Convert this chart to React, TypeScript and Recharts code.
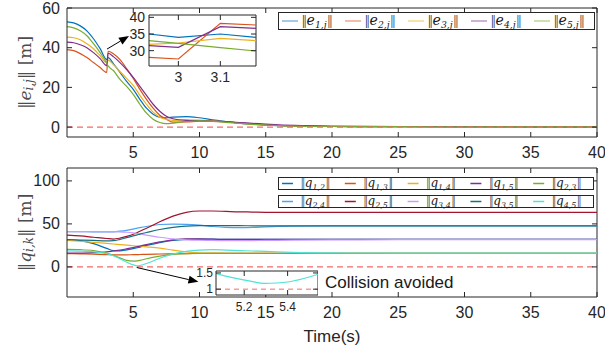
import React from "react";
import { LineChart, Line, XAxis, YAxis, ReferenceLine, CartesianGrid } from "recharts";

// ---- top panel: formation errors ----
const topTime = [0, 0.5, 1, 1.5, 2, 2.5, 3, 3.1, 3.5, 4, 4.5, 5, 5.5, 6, 6.5, 7, 7.5, 8, 9, 10, 11, 12, 13, 14, 15, 16, 18, 20, 25, 30, 35, 40];
const e1 = [53, 52.5, 51, 48.5, 44.5, 39.5, 34, 35, 32, 27.5, 23, 19, 14, 9.5, 6.5, 5, 4.7, 5, 5.3, 4.7, 3.7, 2.7, 2, 1.4, 1, 0.7, 0.4, 0.3, 0.2, 0.15, 0.1, 0.1];
const e2 = [39, 38.5, 37, 35, 32.5, 30, 27.5, 38.2, 37, 34, 29.5, 24.5, 19, 14, 9.5, 6, 4, 2.5, 2.6, 3, 3, 2.6, 2.1, 1.6, 1.1, 0.8, 0.4, 0.3, 0.2, 0.15, 0.1, 0.1];
const e3 = [45.3, 45, 44, 42, 39.5, 36, 32.3, 33.7, 31.5, 28, 24.5, 21, 16, 11.5, 7.5, 5, 3.8, 3.4, 3.6, 3.5, 3.1, 2.6, 2, 1.5, 1.1, 0.8, 0.4, 0.3, 0.2, 0.15, 0.1, 0.1];
const e4 = [42.8, 42.5, 41.5, 40, 37.5, 34.5, 31, 37.2, 35.5, 32.5, 29, 25, 20.5, 16, 11.5, 8, 5.5, 4.2, 3.4, 3.2, 3, 2.7, 2.3, 1.9, 1.5, 1.1, 0.7, 0.5, 0.3, 0.2, 0.15, 0.1];
const e5 = [50.6, 50, 48.5, 46, 42, 37.5, 32.2, 30.9, 28.5, 24, 20.5, 16.5, 11.5, 7, 4, 2.3, 1.7, 2, 2.8, 3.1, 2.9, 2.4, 1.9, 1.4, 1, 0.7, 0.4, 0.3, 0.2, 0.15, 0.1, 0.1];

// zoomed view around the switching instant
const zoomTime = [2.93, 3.0, 3.1, 3.185];
const ze1 = [35, 34, 35, 34];
const ze2 = [28, 27.5, 38.2, 37.7];
const ze3 = [31.9, 32.3, 33.7, 33];
const ze4 = [31.5, 31, 37.2, 36.7];
const ze5 = [33, 32.2, 30.9, 29.9];

// ---- bottom panel: inter-agent distances ----
const botTime = [0, 1, 2, 3, 3.5, 4, 4.5, 5, 5.3, 5.5, 6, 7, 8, 9, 10, 11, 12, 13, 14, 15, 17, 20, 25, 30, 35, 40];
const q12 = [31.7, 30.5, 27, 21.5, 19, 18.7, 19.8, 21.3, 22.3, 23, 25, 28.3, 30.8, 32, 32.3, 32.2, 32, 31.9, 31.9, 31.9, 31.9, 31.9, 31.9, 31.9, 31.9, 31.9];
const q13 = [15.5, 15.2, 14.8, 14.3, 14, 13.9, 14, 14.2, 14.3, 14.4, 14.6, 15, 15.3, 15.5, 15.6, 15.7, 15.7, 15.7, 15.7, 15.7, 15.7, 15.7, 15.7, 15.7, 15.7, 15.7];
const q14 = [30.9, 29.8, 28.6, 27.3, 26.6, 26, 25.3, 24.6, 24.2, 24, 23.3, 21.8, 19.5, 17.5, 16.3, 16, 15.9, 15.9, 15.9, 15.9, 15.9, 15.9, 15.9, 15.9, 15.9, 15.9];
const q15 = [16, 16, 16.5, 17.5, 18.5, 19.5, 21, 22.5, 23.5, 24.2, 26, 29, 31.5, 32.5, 32.5, 32.3, 32, 32, 32, 32, 32, 32, 32, 32, 32, 32];
const q23 = [20.3, 20, 19, 16, 13.5, 10.5, 7.5, 6.7, 7, 7.5, 9.5, 12.5, 14.5, 15.5, 15.8, 15.8, 15.8, 15.8, 15.8, 15.8, 15.8, 15.8, 15.8, 15.8, 15.8, 15.8];
const q24 = [41.1, 41, 40.8, 40.6, 40.8, 41.5, 42.5, 44, 45, 45.6, 47, 49.3, 49.8, 49.5, 48.5, 47, 46, 45.6, 45.8, 46.5, 47.3, 47.6, 47.6, 47.6, 47.6, 47.6];
const q25 = [36.9, 36, 34.5, 33, 32.4, 33.5, 35.5, 38, 40, 41.5, 45, 52.5, 59, 63.5, 65, 65, 64.5, 64, 63.8, 63.5, 63.3, 63.3, 63.4, 63.5, 63.5, 63.5];
const q34 = [41, 41, 41, 41, 41, 40.8, 40.3, 39.5, 38.8, 38.3, 37, 34.5, 32.5, 31.5, 31, 30.8, 30.5, 30.5, 30.6, 30.8, 31.1, 31.4, 31.6, 31.7, 31.7, 31.7];
const q35 = [31.7, 31.3, 30.8, 30.3, 30.5, 32, 34, 36, 37.3, 38.2, 40, 43.5, 46, 47.5, 48, 48.1, 48, 47.9, 47.8, 47.8, 47.8, 47.8, 47.8, 47.8, 47.8, 47.8];
const q45 = [18.6, 18.3, 17.5, 15.5, 13, 9.5, 5.5, 2.3, 1.2, 1.6, 4, 10, 15, 18, 19.5, 20, 19.5, 19, 18.5, 18, 17, 16.3, 16, 16, 16, 16];

// zoomed view of the closest approach
const closeTime = [5.07, 5.13, 5.185, 5.24, 5.29, 5.35, 5.4, 5.47, 5.54];
const closeQ45 = [1.48, 1.38, 1.3, 1.23, 1.18, 1.19, 1.22, 1.32, 1.46];

const xTicks = [5, 10, 15, 20, 25, 30, 35, 40];

const topSeries = [
  { key: "e1", vals: e1, zoom: ze1, color: "#0072BD", legend: "#86b9de", sub: "1,j" },
  { key: "e2", vals: e2, zoom: ze2, color: "#D95319", legend: "#eca98c", sub: "2,j" },
  { key: "e3", vals: e3, zoom: ze3, color: "#EDB120", legend: "#f6d890", sub: "3,j" },
  { key: "e4", vals: e4, zoom: ze4, color: "#7E2F8E", legend: "#bf97c7", sub: "4,j" },
  { key: "e5", vals: e5, zoom: ze5, color: "#77AC30", legend: "#bbd698", sub: "5,j" },
];

const botSeries = [
  { key: "q12", vals: q12, color: "#0072BD", sub: "1,2" },
  { key: "q13", vals: q13, color: "#D95319", sub: "1,3" },
  { key: "q14", vals: q14, color: "#EDB120", sub: "1,4" },
  { key: "q15", vals: q15, color: "#7E2F8E", sub: "1,5" },
  { key: "q23", vals: q23, color: "#77AC30", sub: "2,3" },
  { key: "q24", vals: q24, color: "#4DA3F0", sub: "2,4" },
  { key: "q25", vals: q25, color: "#A2142F", sub: "2,5" },
  { key: "q34", vals: q34, color: "#CC99FF", sub: "3,4" },
  { key: "q35", vals: q35, color: "#16707F", sub: "3,5" },
  { key: "q45", vals: q45, color: "#4DE3D6", sub: "4,5" },
];

const topRows = topTime.map((t, i) => {
  const r: any = { t };
  topSeries.forEach((s) => (r[s.key] = s.vals[i]));
  return r;
});
const zoomRows = zoomTime.map((t, i) => {
  const r: any = { t };
  topSeries.forEach((s) => (r[s.key] = s.zoom[i]));
  return r;
});
const botRows = botTime.map((t, i) => {
  const r: any = { t };
  botSeries.forEach((s) => (r[s.key] = s.vals[i]));
  return r;
});
const closeRows = closeTime.map((t, i) => ({ t, q45: closeQ45[i] }));

const INK = "#262626";
const SERIF = "'DejaVu Serif', serif";
const BARS = "'Liberation Serif', serif";

// matlab-style ticks: pointing inward, mirrored on the opposite side
const yTick = (span: number, fs: number, gap: number) => (p: any) => (
  <g>
    <line x1={p.x} x2={p.x + 5} y1={p.y} y2={p.y} stroke={INK} />
    <line x1={p.x + span - 5} x2={p.x + span} y1={p.y} y2={p.y} stroke={INK} />
    <text x={p.x - gap} y={p.y} textAnchor="end" dominantBaseline="central" fontSize={fs} fill={INK}>
      {p.payload.value}
    </text>
  </g>
);
const xTick = (span: number, fs: number, gap: number) => (p: any) => (
  <g>
    <line x1={p.x} x2={p.x} y1={p.y} y2={p.y - 5} stroke={INK} />
    <line x1={p.x} x2={p.x} y1={p.y - span} y2={p.y - span + 5} stroke={INK} />
    <text x={p.x} y={p.y + gap} textAnchor="middle" dominantBaseline="central" fontSize={fs} fill={INK}>
      {p.payload.value}
    </text>
  </g>
);

const yLabel = (sym: string, sub: string) => (p: any) => {
  const vb = p.viewBox;
  const cx = vb.x + 25;
  const cy = vb.y + vb.height / 2;
  return (
    <text transform={`translate(${cx},${cy}) rotate(-90)`} textAnchor="middle" dominantBaseline="central" fontFamily={SERIF} fontSize={17} fill="#4d4d4d">
      <tspan>‖</tspan>
      <tspan fontStyle="italic">{sym}</tspan>
      <tspan fontStyle="italic" fontSize={12} dy={4}>{sub}</tspan>
      <tspan dy={-4}>‖ [m]</tspan>
    </text>
  );
};

const Arrow = (p: any) => {
  const { x1, y1, x2, y2 } = p;
  const a = Math.atan2(y2 - y1, x2 - x1);
  const L = 10;
  const w = 4;
  const bx = x2 - L * Math.cos(a);
  const by = y2 - L * Math.sin(a);
  const pts = `${x2},${y2} ${bx + w * Math.sin(a)},${by - w * Math.cos(a)} ${bx - w * Math.sin(a)},${by + w * Math.cos(a)}`;
  return (
    <g>
      <line x1={x1} y1={y1} x2={bx} y2={by} stroke="#000" strokeWidth={1} />
      <polygon points={pts} fill="#000" />
    </g>
  );
};

function LegendBox(props: { items: { color: string; sub: string }[]; sym: string; left: number; top: number; width: number; height: number; lineW: number; textX: number; fs: number }) {
  const { items, sym, left, top, width, height, lineW, textX, fs } = props;
  const pitch = (width - 2) / items.length;
  const mid = height / 2;
  const base = mid + fs * 0.32;
  return (
    <svg width={width} height={height} style={{ position: "absolute", left, top, overflow: "visible" }}>
      <rect x={0.5} y={0.5} width={width - 1} height={height - 1} fill="#fff" stroke={INK} />
      {items.map((it, i) => {
        const x0 = 4 + i * pitch;
        return (
          <g key={it.sub}>
            <line x1={x0} x2={x0 + lineW} y1={mid} y2={mid} stroke={it.color} strokeWidth={1.5} />
            <text x={x0 + textX} y={base} fontFamily={SERIF} fontSize={fs} fill="#1a1a1a">
              <tspan fontFamily={BARS} letterSpacing={-1}>||</tspan>
              <tspan fontStyle="italic" dx={1}>{sym}</tspan>
              <tspan fontStyle="italic" fontSize={fs * 0.66} dy={fs * 0.2}>{it.sub}</tspan>
              <tspan fontFamily={BARS} letterSpacing={-1} dy={-fs * 0.2} dx={1}>||</tspan>
            </text>
          </g>
        );
      })}
    </svg>
  );
}

export default function App() {
  return (
    <div
      style={{
        position: "fixed",
        left: 0,
        top: 0,
        width: 605,
        height: 345,
        background: "#fff",
        fontFamily: "'Liberation Sans', Arial, sans-serif",
        overflow: "hidden",
      }}
    >
      {/* top panel */}
      <div style={{ position: "absolute", left: 0, top: 0 }}>
        <LineChart width={605} height={165} data={topRows} margin={{ top: 8, right: 8, bottom: 0, left: 0 }}>
          <XAxis
            dataKey="t"
            type="number"
            domain={[0, 40]}
            ticks={xTicks}
            interval={0}
            allowDataOverflow
            height={28}
            tickSize={0}
            tickMargin={0}
            tickLine={false}
            axisLine={{ stroke: INK }}
            tick={xTick(129, 16, 15)}
          />
          <YAxis
            type="number"
            domain={[-5, 60]}
            ticks={[0, 20, 40, 60]}
            interval={0}
            allowDataOverflow
            width={67}
            tickSize={0}
            tickMargin={0}
            tickLine={false}
            axisLine={{ stroke: INK }}
            tick={yTick(530, 16, 7)}
            label={yLabel("e", "i,j")}
          />
          <ReferenceLine y={60} stroke={INK} />
          <ReferenceLine x={40} stroke={INK} />
          {topSeries.map((s) => (
            <Line key={s.key} dataKey={s.key} type="monotone" stroke={s.color} strokeWidth={1.2} dot={false} isAnimationActive={false} />
          ))}
          <ReferenceLine y={0} stroke="#f46a6a" strokeDasharray="6 4" strokeWidth={1.2} />
          <ReferenceLine
            segment={[
              { x: 3.02, y: 39.3 },
              { x: 4.68, y: 45.9 },
            ]}
            shape={Arrow}
          />
        </LineChart>
      </div>

      {/* top inset */}
      <div style={{ position: "absolute", left: 110, top: 10 }}>
        <LineChart width={150} height={80} data={zoomRows} margin={{ top: 5, right: 4, bottom: 0, left: 0 }}>
          <CartesianGrid horizontal={false} vertical={false} fill="#fff" />
          <XAxis
            dataKey="t"
            type="number"
            domain={[2.93, 3.185]}
            ticks={[3, 3.1]}
            interval={0}
            allowDataOverflow
            height={24}
            tickSize={0}
            tickMargin={0}
            tickLine={false}
            axisLine={{ stroke: INK }}
            tick={xTick(51, 14, 11)}
          />
          <YAxis
            type="number"
            domain={[25.4, 40.7]}
            ticks={[30, 35, 40]}
            interval={0}
            allowDataOverflow
            width={39}
            tickSize={0}
            tickMargin={0}
            tickLine={false}
            axisLine={{ stroke: INK }}
            tick={yTick(107, 14, 4)}
          />
          <ReferenceLine y={40.7} stroke={INK} />
          <ReferenceLine x={3.185} stroke={INK} />
          {topSeries.map((s) => (
            <Line key={s.key} dataKey={s.key} type="linear" stroke={s.color} strokeWidth={1.2} dot={false} isAnimationActive={false} />
          ))}
        </LineChart>
      </div>

      <LegendBox items={topSeries.map((s) => ({ color: s.legend, sub: s.sub }))} sym="e" left={278} top={12} width={317} height={18} lineW={16} textX={20} fs={14} />

      {/* bottom panel */}
      <div style={{ position: "absolute", left: 0, top: 160 }}>
        <LineChart width={605} height={185} data={botRows} margin={{ top: 8, right: 8, bottom: 0, left: 0 }}>
          <XAxis
            dataKey="t"
            type="number"
            domain={[0, 40]}
            ticks={xTicks}
            interval={0}
            allowDataOverflow
            height={48}
            tickSize={0}
            tickMargin={0}
            tickLine={false}
            axisLine={{ stroke: INK }}
            tick={xTick(129, 16, 15)}
            label={{ value: "Time(s)", position: "insideBottom", offset: 3, fontSize: 17, fill: INK, fontWeight: 400 }}
          />
          <YAxis
            type="number"
            domain={[-35, 115]}
            ticks={[0, 50, 100]}
            interval={0}
            allowDataOverflow
            width={67}
            tickSize={0}
            tickMargin={0}
            tickLine={false}
            axisLine={{ stroke: INK }}
            tick={yTick(530, 16, 7)}
            label={yLabel("q", "i,k")}
          />
          <ReferenceLine y={115} stroke={INK} />
          <ReferenceLine x={40} stroke={INK} />
          {botSeries.map((s) => (
            <Line key={s.key} dataKey={s.key} type="monotone" stroke={s.color} strokeWidth={1.2} dot={false} isAnimationActive={false} />
          ))}
          <ReferenceLine y={0} stroke="#f46a6a" strokeDasharray="6 4" strokeWidth={1.2} />
          <ReferenceLine
            segment={[
              { x: 5.26, y: -0.7 },
              { x: 9.92, y: -17.4 },
            ]}
            shape={Arrow}
          />
        </LineChart>
      </div>

      {/* bottom inset */}
      <div style={{ position: "absolute", left: 170, top: 262 }}>
        <LineChart width={148} height={56} data={closeRows} margin={{ top: 9, right: 0, bottom: 0, left: 0 }}>
          <CartesianGrid horizontal={false} vertical={false} fill="#fff" />
          <XAxis
            dataKey="t"
            type="number"
            domain={[5.07, 5.54]}
            ticks={[5.2, 5.4]}
            interval={0}
            allowDataOverflow
            height={23}
            tickSize={0}
            tickMargin={0}
            tickLine={false}
            axisLine={{ stroke: INK }}
            tick={xTick(24, 12, 12)}
          />
          <YAxis
            type="number"
            domain={[0.82, 1.56]}
            ticks={[1, 1.5]}
            interval={0}
            allowDataOverflow
            width={46}
            tickSize={0}
            tickMargin={0}
            tickLine={false}
            axisLine={{ stroke: INK }}
            tick={yTick(102, 12, 3)}
          />
          <ReferenceLine y={1.56} stroke={INK} />
          <ReferenceLine x={5.54} stroke={INK} />
          <Line dataKey="q45" type="monotone" stroke="#4DE3D6" strokeWidth={1.2} dot={false} isAnimationActive={false} />
          <ReferenceLine y={1} stroke="#f46a6a" strokeDasharray="5 4" strokeWidth={1} />
        </LineChart>
      </div>

      <div style={{ position: "absolute", left: 325, top: 273, fontSize: 17, color: "#1a1a1a", whiteSpace: "nowrap" }}>Collision avoided</div>

      <LegendBox items={botSeries.slice(0, 5)} sym="q" left={278} top={177} width={316} height={13} lineW={11} textX={19} fs={12} />
      <LegendBox items={botSeries.slice(5)} sym="q" left={278} top={195} width={316} height={13} lineW={11} textX={19} fs={12} />
    </div>
  );
}
